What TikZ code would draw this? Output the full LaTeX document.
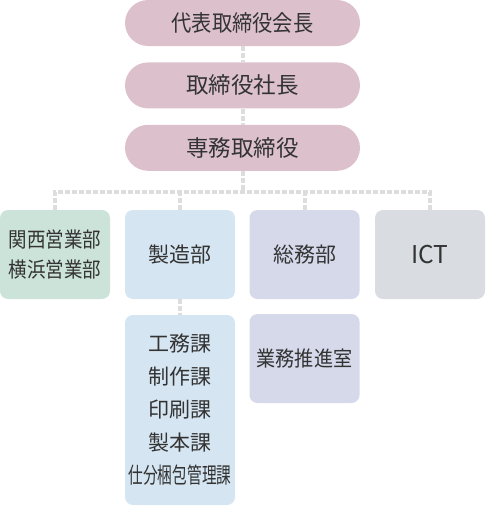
\documentclass[tikz,border=0pt]{standalone}
\usepackage{fontspec}
\setmainfont{Noto Sans CJK JP}
\usepackage{xcolor}
\usetikzlibrary{positioning}
\definecolor{mauve}{RGB}{220,193,205}
\definecolor{mint}{RGB}{204,227,218}
\definecolor{skyblue}{RGB}{213,229,241}
\definecolor{lavender}{RGB}{213,217,234}
\definecolor{slate}{RGB}{217,221,225}
\definecolor{ink}{RGB}{51,51,51}
\definecolor{linkgrey}{RGB}{221,221,221}

\begin{document}
\begin{tikzpicture}[x=1pt,y=-1pt,node distance=16pt,
  pill/.style={fill=mauve,rounded corners=23pt,minimum width=235pt,minimum height=46pt,
    text=ink,font=\fontsize{22.5}{24}\selectfont},
  dept/.style={rounded corners=8pt,minimum width=110pt,minimum height=89pt,
    text=ink,align=center,font=\fontsize{21}{29.5}\selectfont},
  link/.style={draw=linkgrey,line width=4pt,dash pattern=on 5pt off 2pt}]
  \useasboundingbox (0,0) rectangle (486,506);
  % top management
  \node[pill] (chair) at (242.5,23) {\scalebox{0.9}[1]{代表取締役会長}};
  \node[pill,below=of chair] (pres) {取締役社長};
  \node[pill,below=of pres] (senmu) {専務取締役};
  % departments
  \node[dept,fill=mint] (sales) at (55,254.5) {\scalebox{0.88}[1]{関西営業部}\\\scalebox{0.88}[1]{横浜営業部}};
  \node[dept,fill=skyblue] (seizo) at (180,254.5) {製造部};
  \node[dept,fill=lavender] (somu) at (304.5,254.5) {総務部};
  \node[dept,fill=slate,font=\fontsize{24.5}{26}\selectfont] (ict) at (430,254.5) {ICT};
  % sections
  \node[dept,fill=skyblue,minimum height=190pt,font=\fontsize{21}{33}\selectfont] (ka) at (180,410)
    {工務課\\制作課\\印刷課\\製本課\\\scalebox{0.7}[1.05]{仕分梱包管理課}};
  \node[dept,fill=lavender] (suishin) at (304.5,358.5) {\scalebox{0.91}[1]{業務推進室}};
  % connectors
  \coordinate (bus) at (242.5,192);
  \draw[link] (chair) -- (pres);
  \draw[link] (pres) -- (senmu);
  \draw[link] (senmu) -- (bus);
  \draw[link] (sales.north) |- (bus) -| (ict.north);
  \draw[link] (seizo.north) -- (seizo.north |- bus);
  \draw[link] (somu.north) -- (somu.north |- bus);
  \draw[link] (seizo) -- (ka);
\end{tikzpicture}
\end{document}
